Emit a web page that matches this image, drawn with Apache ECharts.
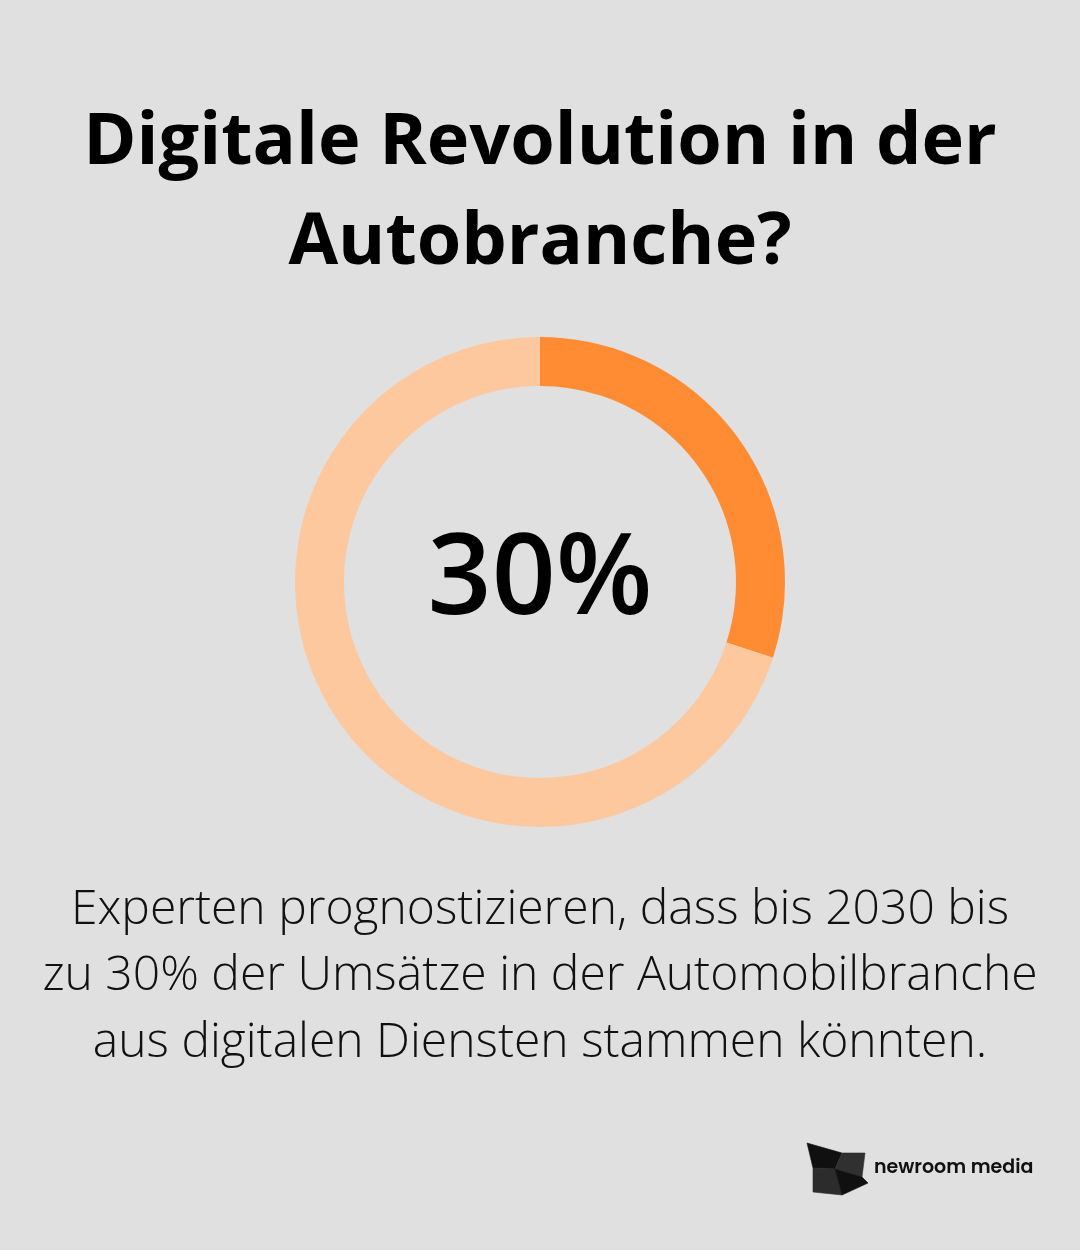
<!DOCTYPE html>
<html><head><meta charset="utf-8">
<script src="https://cdn.jsdelivr.net/npm/echarts@6/dist/echarts.min.js"></script>
<style>html,body{margin:0;padding:0;background:#dfe0df;}#c{width:1080px;height:1250px;}</style>
</head><body><div id="c"></div>
<script>
const categories = ['Digitale Dienste', 'Sonstige Umsätze'];
const values = [30, 70];
const centerLabel = '30%';
const titleLines = ['Digitale Revolution in der', 'Autobranche?'];
const bodyLines = ['Experten prognostizieren, dass bis 2030 bis', 'zu 30% der Umsätze in der Automobilbranche', 'aus digitalen Diensten stammen könnten.'];
const brand = 'newroom media';

const colors = ['#ff8c33', '#fec89e'];
const chart = echarts.init(document.getElementById('c'), null, {renderer: 'canvas'});
const graphics = [];
titleLines.forEach((t, i) => graphics.push({type: 'text', left: 'center', top: 107 + i * 100,
  style: {text: t, font: '700 72px "Open Sans"', fill: '#000'}}));
bodyLines.forEach((t, i) => graphics.push({type: 'text', left: 'center', top: 886 + i * 66.5,
  style: {text: t, font: '300 48px "Open Sans"', fill: '#111'}}));
graphics.push({type: 'text', x: 540, y: 582, style: {text: centerLabel, font: '600 112px "Open Sans"', fill: '#000', align: 'center', verticalAlign: 'middle'}});
// logo
const logoPieces = [
  {pts: [[807,1143],[842,1153],[835,1169],[813,1168]], c: '#101010'},
  {pts: [[842,1153],[865,1153],[862,1177],[835,1169]], c: '#303030'},
  {pts: [[813,1168],[835,1169],[842,1195],[813,1192]], c: '#2c2c2c'},
  {pts: [[835,1169],[862,1177],[868,1183],[842,1195]], c: '#101010'}
];
logoPieces.forEach(p => graphics.push({type: 'polygon', shape: {points: p.pts}, style: {fill: p.c, stroke: p.c, lineWidth: 0.6}}));
graphics.push({type: 'text', x: 874, y: 1168, style: {text: brand, font: '600 19px "Poppins", "Inter", sans-serif', fill: '#111', verticalAlign: 'middle'}});

chart.setOption({
  backgroundColor: '#dfe0df',
  animation: false,
  series: [{
    type: 'pie',
    center: [540, 582],
    radius: [196, 245],
    startAngle: 90,
    clockwise: true,
    silent: true,
    label: {show: false},
    labelLine: {show: false},
    data: categories.map((c, i) => ({name: c, value: values[i], itemStyle: {color: colors[i]}}))
  }],
  graphic: graphics
});
</script></body></html>
